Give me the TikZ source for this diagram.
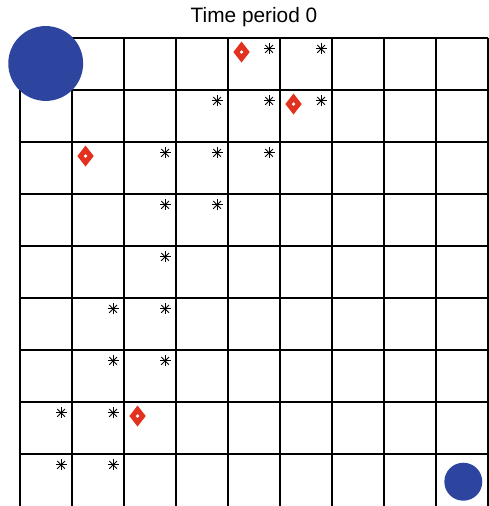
\documentclass[tikz,border=0pt]{standalone}
\usepackage{fontspec}
\setmainfont{Liberation Sans}
\usetikzlibrary{shapes.geometric}
\definecolor{agentblue}{HTML}{2E45A0}
\definecolor{hazard}{HTML}{E2311E}
\tikzset{
  gridline/.style={draw=black,line width=0.85pt},
  agent/.style={circle,fill=agentblue,draw=none,inner sep=0pt,minimum size=1.44cm},
  goal/.style={agent,minimum size=0.73cm},
  hazardmk/.style={diamond,fill=hazard,draw=none,inner sep=0pt,
    minimum width=0.32cm,minimum height=0.41cm},
  hole/.style={circle,fill=white,inner sep=0pt,minimum size=0.07cm},
  starline/.style={line width=0.5pt,draw=black},
  obs/.pic={\foreach \a in {0,45,90,135} \draw[starline] (\a:0.105)--(\a+180:0.105);},
  title/.style={font=\fontsize{11.4}{13}\selectfont},
}

\begin{document}
\begin{tikzpicture}
  \useasboundingbox (-0.385,0) rectangle (9.019,9.731);
  % the 9x9 board
  \foreach \i in {0,...,9} \draw[gridline] (\i,0) -- (\i,9);
  \foreach \j in {1,...,9} \draw[gridline] (0,\j) -- (9,\j);
  \node[title] (ttl) at (4.5,9.404) {Time period 0};
  % observed cells (column/row counted from the top)
  \foreach \c/\r [count=\k] in {4/0,5/0,3/1,4/1,5/1,2/2,3/2,4/2,2/3,3/3,2/4,
      1/5,2/5,1/6,2/6,0/7,1/7,0/8,1/8}
    \pic (o\k) at (\c+0.79,8.79-\r) {obs};
  % hazards
  \foreach \c/\r [count=\k] in {4/0,5/1,1/2,2/7}{
    \node[hazardmk] (h\k) at (\c+0.26,8.73-\r) {};
    \node[hole] (h\k c) at (h\k) {};
  }
  \node[agent] (start) at (0.494,8.51) {};
  \node[goal] (goal) at (8.525,0.467) {};
\end{tikzpicture}
\end{document}
